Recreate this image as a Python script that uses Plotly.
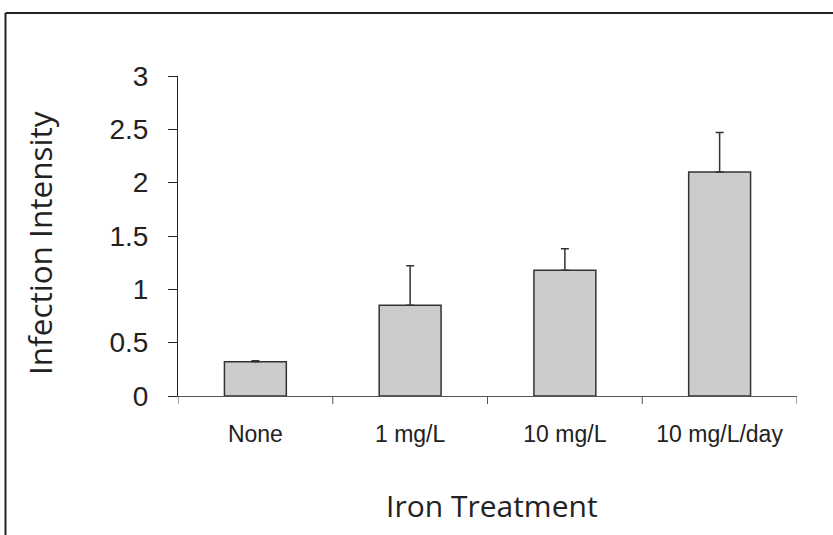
import plotly.graph_objects as go

categories = ["None", "1 mg/L", "10 mg/L", "10 mg/L/day"]
values = [0.32, 0.85, 1.18, 2.10]
err_plus = [0.01, 0.37, 0.20, 0.37]
y_ticks = [0, 0.5, 1, 1.5, 2, 2.5, 3]
y_tick_labels = ["0", "0.5", "1", "1.5", "2", "2.5", "3"]

W, H = 833, 535
L, R, T, B = 178, 36, 76, 139
pw, ph = W - L - R, H - T - B

def px(x):
    return (x - L) / pw

def py(y):
    return (H - B - y) / ph

fig = go.Figure()
fig.add_trace(go.Bar(
    x=list(range(len(categories))), y=values,
    width=0.4,
    marker=dict(color="#cccccc", line=dict(color="#333333", width=1.5)),
    error_y=dict(type="data", array=err_plus, arrayminus=[0]*len(values),
                 symmetric=False, color="#333333", thickness=1.5, width=4),
))

fig.update_layout(
    width=W, height=H,
    margin=dict(l=L, r=R, t=T, b=B),
    paper_bgcolor="white", plot_bgcolor="white",
    showlegend=False,
    xaxis=dict(
        range=[-0.5, len(categories) - 0.5],
        tickvals=list(range(len(categories))), ticktext=categories,
        showgrid=False, zeroline=False,
        showline=True, linecolor="#555555", linewidth=1,
        ticks="", tickfont=dict(family="Liberation Sans", size=23, color="#222222"),
        ticklabelstandoff=17,
        fixedrange=True,
    ),
    yaxis=dict(
        range=[0, 3], tickvals=y_ticks, ticktext=y_tick_labels,
        showgrid=False, zeroline=False,
        showline=True, linecolor="#222222", linewidth=1,
        ticks="outside", ticklen=9, tickcolor="#222222", tickwidth=1,
        tickfont=dict(family="Liberation Sans", size=28, color="#222222"),
        ticklabelstandoff=14,
        fixedrange=True,
    ),
)

# boundary tick marks on the x axis (between categories)
for b in [i - 0.5 for i in range(len(categories) + 1)]:
    fig.add_shape(type="line", xref="x", yref="paper", x0=b, x1=b,
                  y0=0, y1=py(H - B + 8), line=dict(color="#555555", width=1))

# outer frame
fr = dict(color="#222222", width=2)
fig.add_shape(type="line", xref="paper", yref="paper",
              x0=px(5.5), x1=px(W + 10), y0=py(13), y1=py(13), line=fr)
fig.add_shape(type="line", xref="paper", yref="paper",
              x0=px(5.5), x1=px(5.5), y0=py(13), y1=py(H + 10), line=fr)

fig.add_annotation(text="Iron Treatment", xref="paper", yref="paper",
                   x=px(492), y=py(505), xanchor="center", yanchor="middle",
                   showarrow=False,
                   font=dict(family="Open Sans", size=30, color="#222222"))
fig.add_annotation(text="Infection Intensity", xref="paper", yref="paper",
                   x=px(39), y=py(243), xanchor="center", yanchor="middle",
                   showarrow=False, textangle=-90,
                   font=dict(family="Open Sans", size=31.5, color="#222222"))

fig.write_html("out.html", config={"displayModeBar": False},
               post_script="document.body.style.margin='0';")
